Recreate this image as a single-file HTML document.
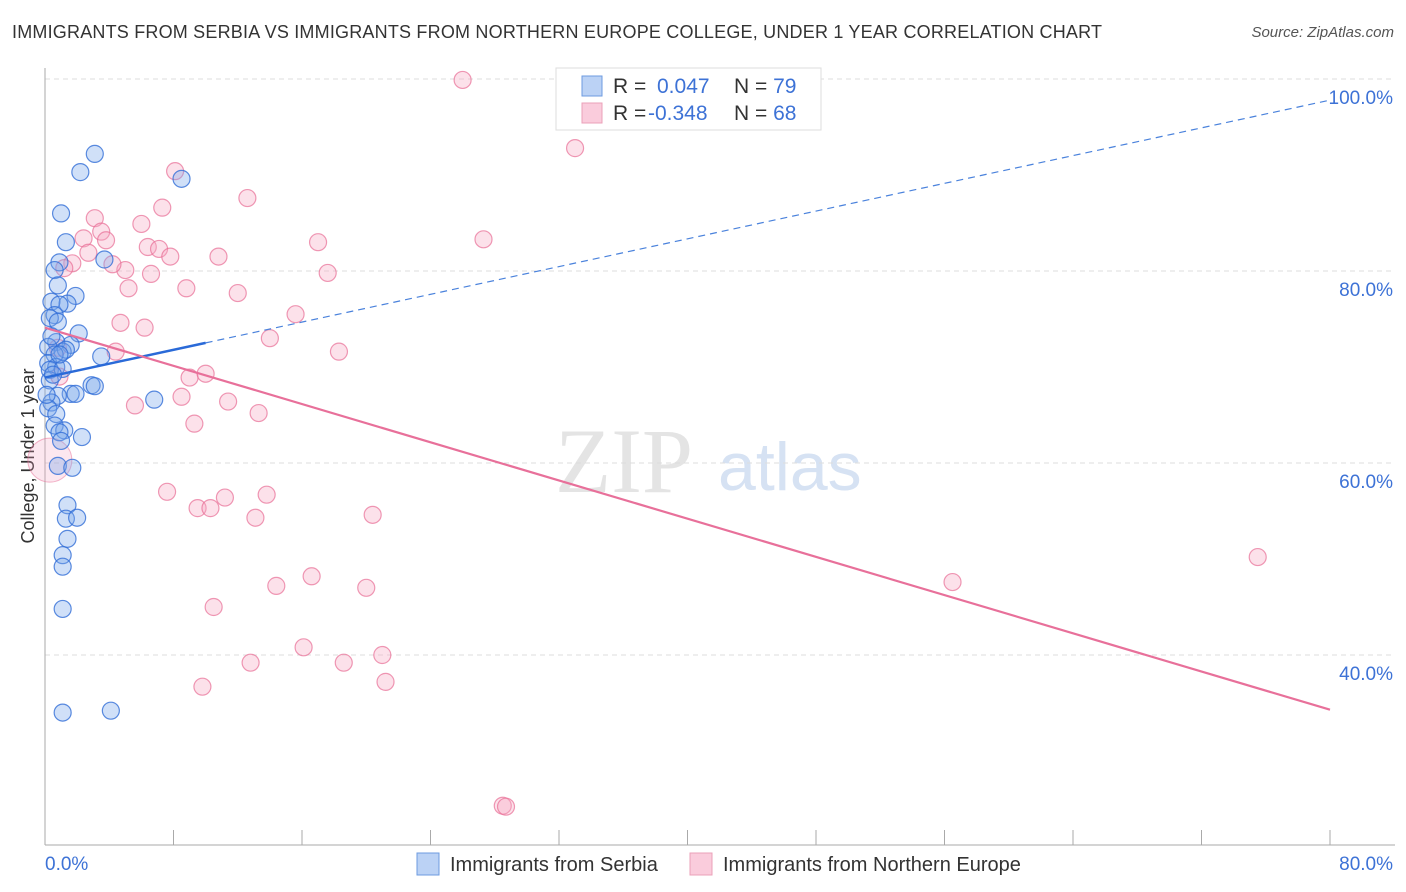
<!DOCTYPE html>
<html><head><meta charset="utf-8">
<style>
body{margin:0;background:#fff;font-family:"Liberation Sans",sans-serif;}
#wrap{position:relative;width:1406px;height:892px;overflow:hidden;}
.title{position:absolute;left:12px;top:22px;font-size:18px;letter-spacing:0.2px;color:#333;white-space:nowrap;}
.source{position:absolute;right:12px;top:24px;font-size:15px;color:#555;font-style:italic;}
</style></head>
<body>
<div id="wrap">
<div class="title">IMMIGRANTS FROM SERBIA VS IMMIGRANTS FROM NORTHERN EUROPE COLLEGE, UNDER 1 YEAR CORRELATION CHART</div>
<div class="source">Source: ZipAtlas.com</div>
<svg id="svg" width="1406" height="892" style="position:absolute;left:0;top:0"></svg>
</div>
<script>
const blueX=[3.1,2.2,8.5,1.0,1.3,3.7,0.9,0.6,0.8,1.9,1.4,0.4,0.9,0.6,0.3,0.8,2.1,1.6,0.7,0.2,1.1,1.3,0.6,3.5,0.2,0.7,0.3,1.1,2.9,3.1,1.6,1.9,6.8,0.8,0.4,0.2,0.7,0.6,1.2,0.9,2.3,1.0,0.8,1.7,1.4,1.3,2.0,1.4,1.1,1.1,1.1,1.1,4.1,0.3,0.1,0.4,0.9,0.5];
const blueY=[92.2,90.3,89.6,86.0,83.0,81.2,80.9,80.1,78.5,77.4,76.6,76.8,76.5,75.4,75.1,74.7,73.5,72.3,72.6,72.1,71.6,71.8,71.3,71.1,70.4,70.0,69.7,69.8,68.1,68.0,67.2,67.2,66.6,67.0,66.3,65.7,65.1,63.9,63.4,63.2,62.7,62.3,59.7,59.5,55.6,54.2,54.3,52.1,50.4,49.2,44.8,34.0,34.2,68.6,67.1,73.2,71.3,69.2];
const pinkX=[26.0,33.0,8.1,12.6,7.3,3.1,6.0,3.5,2.4,3.8,17.0,27.3,6.4,7.1,2.7,7.8,10.8,1.7,1.2,5.0,6.6,17.6,4.2,5.2,8.8,12.0,15.6,4.7,6.2,14.0,0.8,18.3,4.4,9.0,10.0,0.9,8.5,5.6,11.4,13.3,9.3,7.6,9.5,10.3,11.2,13.8,13.1,20.4,56.5,75.5,16.6,14.4,20.0,10.5,16.1,12.8,18.6,21.0,9.8,21.2,28.5,28.7];
const pinkY=[99.9,92.8,90.4,87.6,86.6,85.5,84.9,84.1,83.4,83.2,83.0,83.3,82.5,82.3,81.9,81.5,81.5,80.8,80.3,80.1,79.7,79.8,80.7,78.2,78.2,77.7,75.5,74.6,74.1,73.0,72.0,71.6,71.6,68.9,69.3,69.0,66.9,66.0,66.4,65.2,64.1,57.0,55.3,55.3,56.4,56.7,54.3,54.6,47.6,50.2,48.2,47.2,47.0,45.0,40.8,39.2,39.2,40.0,36.7,37.2,24.3,24.2];
const yTicks=[100,80,60,40];
const yTickLabels=["100.0%","80.0%","60.0%","40.0%"];
const blueTrend=[68.9,97.8];
const pinkTrend=[74.1,34.3];
const NS="http://www.w3.org/2000/svg";
const svg=document.getElementById('svg');
const X0=45,X1=1330,Y100=79,PXPER=9.6;
const sx=v=>X0+v/80*(X1-X0);
const sy=v=>Y100+(100-v)*PXPER;
function mk(t,a){const e=document.createElementNS(NS,t);for(const k in a)e.setAttribute(k,a[k]);svg.appendChild(e);return e;}
let wm=mk('text',{x:555,y:492,'font-size':92,'font-family':'Liberation Serif, serif',fill:'#e4e4e4'});wm.textContent='ZIP';


let wm2=mk('text',{x:718,y:490,'font-size':68,'font-family':'Liberation Sans, sans-serif',fill:'#d6e2f3'});wm2.textContent='atlas';


yTicks.forEach((t,i)=>{
  const g=mk('line',{x1:X0,x2:1395,y1:sy(t),y2:sy(t),stroke:'#dddddd','stroke-dasharray':'5,4'});
  
  
  const l=mk('text',{x:1393,y:sy(t)+25,'text-anchor':'end','font-size':19,fill:'#3d72d6'});
  l.textContent=yTickLabels[i];
  
  
});
let ya=mk('line',{x1:X0,x2:X0,y1:68,y2:845,stroke:'#aaa'});


let xa=mk('line',{x1:X0,x2:1395,y1:845,y2:845,stroke:'#aaa'});


for(let i=0;i<=10;i++){const tk=mk('line',{x1:sx(i*8),x2:sx(i*8),y1:830,y2:845,stroke:'#aaa'});

}
let xl0=mk('text',{x:45,y:870,'font-size':19,fill:'#3d72d6'});xl0.textContent='0.0%';


let xl1=mk('text',{x:1393,y:870,'font-size':19,fill:'#3d72d6','text-anchor':'end'});xl1.textContent='80.0%';


let yt=mk('text',{x:34,y:456,'font-size':18,fill:'#333','text-anchor':'middle',transform:'rotate(-90 34 456)'});yt.textContent='College, Under 1 year';


let bp=mk('circle',{cx:sx(0.3),cy:sy(60.3),r:22,fill:'rgba(244,160,190,0.25)',stroke:'rgba(232,110,150,0.5)'});


pinkX.forEach((x,i)=>{const c=mk('circle',{cx:sx(x),cy:sy(pinkY[i]),r:8.5,fill:'rgba(246,170,196,0.35)',stroke:'rgba(232,110,150,0.7)','stroke-width':1.2});

});
blueX.forEach((x,i)=>{const c=mk('circle',{cx:sx(x),cy:sy(blueY[i]),r:8.5,fill:'rgba(120,165,235,0.35)',stroke:'rgba(50,110,215,0.8)','stroke-width':1.2});

});
const bAt=x=>blueTrend[0]+(blueTrend[1]-blueTrend[0])*x/80;
let bd=mk('line',{x1:sx(10),y1:sy(bAt(10)),x2:sx(80),y2:sy(bAt(80)),stroke:'#4a82dc','stroke-width':1.2,'stroke-dasharray':'7,5'});


let bs=mk('line',{x1:sx(0),y1:sy(bAt(0)),x2:sx(10),y2:sy(bAt(10)),stroke:'#2a6ad8','stroke-width':2.5});


let pl=mk('line',{x1:sx(0),y1:sy(pinkTrend[0]),x2:sx(80),y2:sy(pinkTrend[1]),stroke:'#e8709a','stroke-width':2.2});


let lb=mk('rect',{x:556,y:68,width:265,height:62,fill:'#fff',stroke:'#ddd'});


const rows=[['rgba(120,165,235,0.5)','#6e9be0','0.047','79',86],['rgba(246,170,196,0.6)','#eba0b8','-0.348','68',113]];
rows.forEach(r=>{
  const s=mk('rect',{x:582,y:r[4]-10,width:20,height:20,fill:r[0],stroke:r[1]});
  
  
  const t=mk('text',{x:613,y:r[4]+7,'font-size':21,fill:'#333'});
  t.innerHTML='R = <tspan fill="#3d72d6" x="'+(r[2][0]=='-'?648:657)+'">'+r[2]+'</tspan><tspan x="734">N = </tspan><tspan fill="#3d72d6">'+r[3]+'</tspan>';
  
  
});
[[417,'rgba(120,165,235,0.5)','#6e9be0','Immigrants from Serbia'],[690,'rgba(246,170,196,0.6)','#eba0b8','Immigrants from Northern Europe']].forEach(l=>{
  const s=mk('rect',{x:l[0],y:853,width:22,height:22,fill:l[1],stroke:l[2]});
  
  
  const t=mk('text',{x:l[0]+33,y:871,'font-size':20,fill:'#333'});t.textContent=l[3];
  
  
});
</script>
</body></html>
